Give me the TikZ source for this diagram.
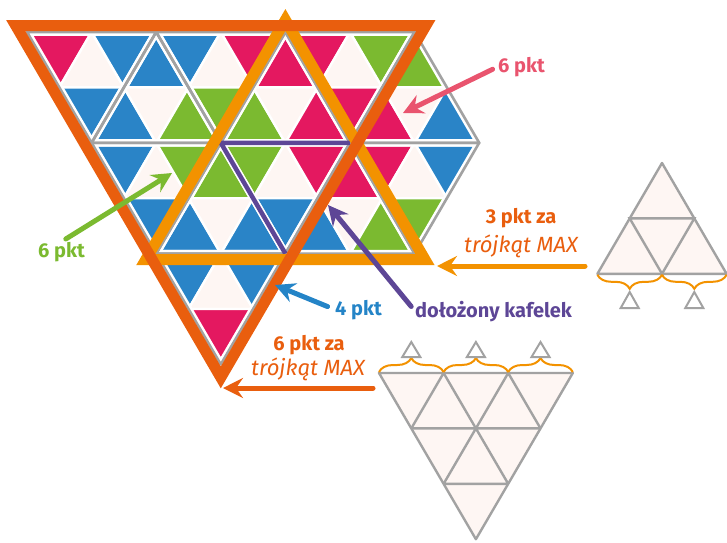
\documentclass[tikz,border=0pt]{standalone}
\usepackage{fontspec}
\setmainfont{Fira Sans}
\usetikzlibrary{arrows.meta,decorations.pathreplacing}

\definecolor{tpink}{RGB}{228,24,96}
\definecolor{tblue}{RGB}{42,132,199}
\definecolor{tgreen}{RGB}{123,186,48}
\definecolor{twhite}{RGB}{254,246,243}
\definecolor{tgrey}{RGB}{162,162,162}
\definecolor{maxdark}{RGB}{233,94,14}
\definecolor{maxlight}{RGB}{243,146,0}
\definecolor{addpurple}{RGB}{93,70,150}
\definecolor{lblpink}{RGB}{233,84,110}
\definecolor{lblblue}{RGB}{36,132,199}

% down tile: top-left corner, then colours TL, centre, TR, bottom
\newcommand{\downtile}[6]{%
  \begin{scope}[shift={(#1,#2)}]
    \draw[cell,fill=#3] (0,0) -- (1,0) -- (0,1) -- cycle;
    \draw[cell,fill=#4] (1,0) -- (1,1) -- (0,1) -- cycle;
    \draw[cell,fill=#5] (1,0) -- (2,0) -- (1,1) -- cycle;
    \draw[cell,fill=#6] (0,1) -- (1,1) -- (0,2) -- cycle;
  \end{scope}}
% up tile: apex, then colours top, BL, centre, BR
\newcommand{\uptile}[6]{%
  \begin{scope}[shift={(#1,#2)}]
    \draw[cell,fill=#3] (0,0) -- (0,1) -- (-1,1) -- cycle;
    \draw[cell,fill=#4] (-1,1) -- (-1,2) -- (-2,2) -- cycle;
    \draw[cell,fill=#5] (-1,1) -- (0,1) -- (-1,2) -- cycle;
    \draw[cell,fill=#6] (0,1) -- (0,2) -- (-1,2) -- cycle;
  \end{scope}}

\begin{document}
\begin{tikzpicture}[x=1pt,y=-1pt,
  cell/.style={draw=white,line width=2.4pt,line join=round},
  tilegap/.style={draw=white,line width=7.5pt,line join=round},
  tileline/.style={draw=tgrey,line width=2.6pt,line join=round},
  addtile/.style={draw=addpurple,line width=4.5pt,line join=round},
  maxtri/.style={line width=11pt,line join=miter},
  sketch/.style={draw=tgrey,line width=2.4pt,fill=twhite,line join=round},
  sketchline/.style={draw=tgrey,line width=2.4pt},
  mini/.style={draw=tgrey,line width=2pt},
  grp/.style={draw=maxlight,line width=2pt,decorate,decoration={brace,amplitude=14pt,raise=1pt}},
  ptr/.style={line width=5pt,line cap=round,-{Stealth[length=20pt,width=20pt,inset=7pt]}},
  lbl/.style={inner sep=0pt,anchor=base west,font=\fontsize{20}{24}\selectfont\bfseries},
  maxlbl/.style={inner sep=0pt,anchor=base,font=\fontsize{22}{26}\selectfont\itshape}]
\useasboundingbox (0,0) rectangle (727,542);

%% the tiled board
\begin{scope}[shift={(27pt,-32pt)},x={(64.6pt,0pt)},y={(32.3pt,-55.4pt)}]
  \downtile{0}{0}{tpink}{twhite}{tblue}{tblue}
  \uptile{2}{0}{tblue}{tblue}{twhite}{tgreen}
  \downtile{2}{0}{tblue}{twhite}{tpink}{tgreen}
  \uptile{4}{0}{tpink}{tgreen}{twhite}{tpink}
  \downtile{4}{0}{tpink}{twhite}{tgreen}{tpink}
  \uptile{6}{0}{tgreen}{tpink}{twhite}{tblue}
  \downtile{0}{2}{tblue}{twhite}{tgreen}{tblue}
  \uptile{2}{2}{tgreen}{tblue}{twhite}{tblue}
  \downtile{2}{2}{tgreen}{twhite}{tpink}{tblue}
  \uptile{4}{2}{tpink}{tblue}{twhite}{tgreen}
  \downtile{4}{2}{tpink}{twhite}{tblue}{tgreen}
  \downtile{0}{4}{tblue}{twhite}{tblue}{tpink}
  % tile borders, white gap first then grey line
  \foreach \sty in {tilegap,tileline}{
    \foreach \i/\j in {0/0,2/0,4/0,0/2,2/2,4/2,0/4}
      \draw[\sty] (\i,\j) -- ++(2,0) -- ++(-2,2) -- cycle;
    \foreach \i/\j in {2/0,4/0,6/0,2/2,4/2}
      \draw[\sty] (\i,\j) -- ++(0,2) -- ++(-2,0) -- cycle;
  }
  % the added tile (its third side lies under the big MAX frame)
  \draw[addtile] (4,2) -- (2,2) -- (2,4);
\end{scope}

%% MAX triangles
\draw[maxtri,maxlight] (285.4,20) -- (425,259.6) -- (145.8,259.6) -- cycle;
\draw[maxtri,maxdark] (15.7,25.5) -- (425.9,25.5) -- (220.8,377.4) -- cycle;

%% small sketch: upward MAX
\begin{scope}[shift={(662pt,-163pt)},x={(64.6pt,0pt)},y={(32.3pt,-55.4pt)}]
  \draw[sketch] (0,0) -- (0,2) -- (-2,2) -- cycle;
  \draw[sketchline] (-1,1) -- (0,1) -- (-1,2) -- cycle;
  \draw[grp] (-1,2) -- (-2,2);
  \draw[grp] (0,2) -- (-1,2);
\end{scope}
\foreach \cx in {629.7,694.3}
  \draw[mini] (\cx,292) -- ++(9,16) -- ++(-18,0) -- cycle;

%% small sketch: downward MAX
\begin{scope}[shift={(379pt,-373pt)},x={(64.6pt,0pt)},y={(32.3pt,-55.4pt)}]
  \draw[sketch] (0,0) -- (3,0) -- (0,3) -- cycle;
  \draw[sketchline] (0,1) -- (2,1) (0,2) -- (1,2) (1,0) -- (1,2) (2,0) -- (2,1)
    (1,0) -- (0,1) (2,0) -- (0,2);
  \foreach \k in {0,1,2}
    \draw[grp] (\k,0) -- (\k+1,0);
\end{scope}
\foreach \cx in {411.3,475.9,540.5}
  \draw[mini] (\cx,342) -- ++(9,15) -- ++(-18,0) -- cycle;

%% labels
\node[lbl,lblpink] (sixpink) at (498,72) {6 pkt};
\node[lbl,tgreen] (sixgreen) at (38,257) {6 pkt};
\node[lbl,lblblue] (four) at (335,315) {4 pkt};
\node[lbl,addpurple] (added) at (415,317) {dołożony kafelek};
\node[lbl,maxdark,anchor=base] (threeza) at (521,223) {3 pkt za};
\node[maxlbl,maxdark] (threemax) at (521,252) {trójkąt MAX};
\node[lbl,maxdark,anchor=base] (sixza) at (309,350) {6 pkt za};
\node[maxlbl,maxdark] (sixmax) at (308,375) {trójkąt MAX};

%% arrows
\coordinate (pinktip) at (403,113);
\coordinate (greentip) at (172,173);
\coordinate (bluetip) at (275,285);
\coordinate (purpletip) at (328,205);
\coordinate (threetail) at (585,266);
\coordinate (threetip) at (437,266);
\coordinate (sixtail) at (373,388);
\coordinate (sixtip) at (223,388);
\draw[ptr,lblpink,shorten <=6pt] (sixpink.west) -- (pinktip);
\draw[ptr,tgreen,shorten <=5pt] (sixgreen.north) -- (greentip);
\draw[ptr,lblblue,shorten <=8pt] (four.west) -- (bluetip);
\draw[ptr,addpurple,shorten <=6pt] (added.west) -- (purpletip);
\draw[ptr,maxlight] (threetail) -- (threetip);
\draw[ptr,maxdark] (sixtail) -- (sixtip);
\end{tikzpicture}
\end{document}
